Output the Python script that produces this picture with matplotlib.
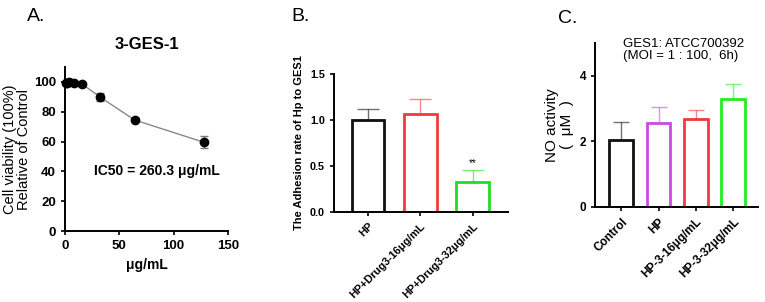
import matplotlib
matplotlib.use("Agg")
import matplotlib.pyplot as plt

plt.rcParams['font.family'] = ['Liberation Sans', 'DejaVu Sans']

# Panel A data
conc = [1, 2, 4, 8, 16, 32, 64, 128]
viab = [99, 99.5, 100, 99, 98.5, 90, 74.5, 59.5]
viab_err = [1, 1, 1, 1, 1, 2.5, 1, 4]

# Panel B data
b_labels = ["HP", "HP+Drug3-16μg/mL", "HP+Drug3-32μg/mL"]
b_vals = [1.0, 1.07, 0.33]
b_err = [0.12, 0.16, 0.13]
b_colors = ["#111111", "#ee3b3b", "#22dd22"]

# Panel C data
c_labels = ["Control", "HP", "HP-3-16μg/mL", "HP-3-32μg/mL"]
c_vals = [2.05, 2.55, 2.68, 3.28]
c_err = [0.53, 0.48, 0.27, 0.47]
c_colors = ["#111111", "#c94be0", "#ee3b3b", "#22ee22"]

fig = plt.figure(figsize=(7.65, 3.02), dpi=100)


def style(ax, fs):
    for s in ["top", "right"]:
        ax.spines[s].set_visible(False)
    for s in ["left", "bottom"]:
        ax.spines[s].set_linewidth(1.4)
    ax.tick_params(width=1.2, length=3, labelsize=fs)
    for t in ax.get_xticklabels() + ax.get_yticklabels():
        t.set_fontweight("bold")


# ---- A ----
axA = fig.add_axes([0.085, 0.235, 0.213, 0.543])
axA.errorbar(conc, viab, yerr=viab_err, fmt='o-', color='#888888', mfc='black',
             mec='black', ms=6, lw=1, ecolor='#777777', capsize=3, elinewidth=1)
axA.set_xlim(0, 150)
axA.set_ylim(0, 110)
axA.set_xticks([0, 50, 100, 150])
axA.set_yticks([0, 20, 40, 60, 80, 100])
axA.set_title("3-GES-1", fontsize=12, fontweight='bold', pad=13)
axA.set_xlabel("μg/mL", fontsize=10, fontweight='bold')
axA.set_ylabel("Cell viability (100%)\nRelative of Control", fontsize=10.5,
               labelpad=2, linespacing=1.05)
axA.text(27, 40, "IC50 = 260.3 μg/mL", fontsize=10, fontweight='bold', va='center')
style(axA, 9.5)
for art in axA.get_children():
    try:
        art.set_clip_on(False)
    except Exception:
        pass

# ---- B ----
axB = fig.add_axes([0.4366, 0.298, 0.227, 0.457])
xb = range(len(b_vals))
axB.bar(xb, b_vals, width=0.63, fill=False, edgecolor=b_colors, linewidth=2)
for i in xb:
    axB.errorbar(i, b_vals[i], yerr=[[0], [b_err[i]]], color=b_colors[i],
                 alpha=0.6, capsize=8, elinewidth=1, capthick=1)
axB.text(2, b_vals[2] + b_err[2] + 0.04, "**", ha='center', fontsize=7)
axB.set_xlim(-0.65, 2.67)
axB.set_ylim(0, 1.5)
axB.set_yticks([0, 0.5, 1.0, 1.5])
axB.set_yticklabels(["0.0", "0.5", "1.0", "1.5"])
axB.set_xticks(list(xb))
axB.set_xticklabels(b_labels, rotation=45, ha='right', rotation_mode='anchor')
axB.set_ylabel("The Adhesion rate of Hp to GES1", fontsize=8, fontweight='bold')
style(axB, 7.8)

# ---- C ----
axC = fig.add_axes([0.778, 0.315, 0.213, 0.543])
xc = range(len(c_vals))
axC.bar(xc, c_vals, width=0.64, fill=False, edgecolor=c_colors, linewidth=2)
for i in xc:
    axC.errorbar(i, c_vals[i], yerr=[[0], [c_err[i]]], color=c_colors[i],
                 alpha=0.6, capsize=6, elinewidth=1, capthick=1)
axC.set_xlim(-0.7, 3.67)
axC.set_ylim(0, 5)
axC.set_yticks([0, 2, 4])
axC.set_xticks(list(xc))
axC.set_xticklabels(c_labels, rotation=45, ha='right', rotation_mode='anchor')
axC.set_ylabel("NO activity\n(  μM  )", fontsize=11, labelpad=4, linespacing=1.05)
axC.text(0.17, 1.03, "GES1: ATCC700392\n(MOI = 1 : 100,  6h)", transform=axC.transAxes,
         fontsize=9.5, va='top', linespacing=1.05)
style(axC, 8.5)

fig.text(0.035, 0.975, "A.", fontsize=14, va='top')
fig.text(0.381, 0.975, "B.", fontsize=14, va='top')
fig.text(0.730, 0.968, "C.", fontsize=14, va='top')

fig.savefig("out.png", dpi=100)
